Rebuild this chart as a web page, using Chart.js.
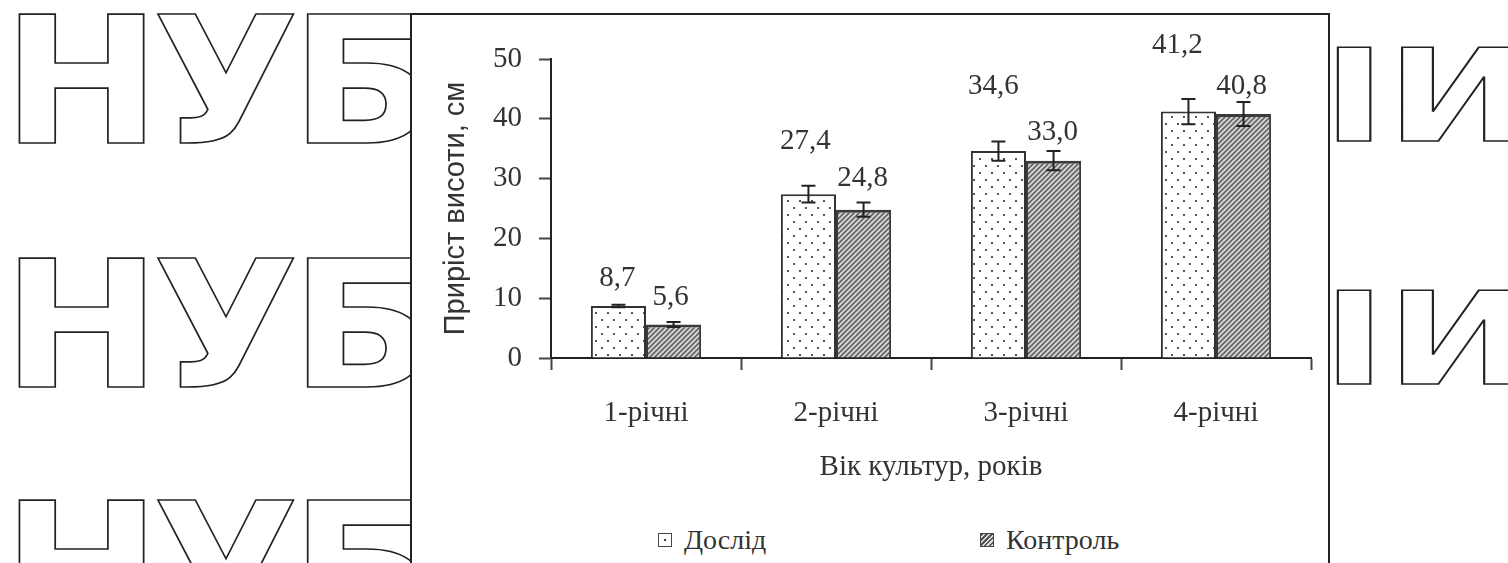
<!DOCTYPE html>
<html>
<head>
<meta charset="utf-8">
<script src="https://cdn.jsdelivr.net/npm/chart.js@4/dist/chart.umd.min.js"></script>
<style>
  body { margin:0; width:1508px; height:563px; overflow:hidden; background:#fff; position:relative; }
  .wm { position:absolute; font-family:'DejaVu Sans'; font-weight:bold; line-height:1; color:#fff;
        -webkit-text-stroke:1.6px #222; white-space:nowrap; transform-origin:0 0; }
  .big { font-size:176px; letter-spacing:-8px; transform:scaleX(1.08); }
  .small { font-size:128px; transform:scaleX(1.35); }
  #box { position:absolute; left:410px; top:13px; width:920px; height:600px; box-sizing:border-box;
         border:2px solid #222; background:#fff; }
  #c { position:absolute; left:412px; top:15px; }
  .leg { position:absolute; top:526px; display:flex; align-items:center; gap:12px; height:28px;
         font:28px 'Liberation Serif'; line-height:28px; color:#333; }
  .sw { width:14px; height:14px; border:1px solid #444; box-sizing:border-box; }
</style>
</head>
<body>
<!-- watermark behind the chart box -->
<div class="wm big" style="left:2px;top:-5px">НУБ</div>
<div class="wm big" style="left:2px;top:239px">НУБ</div>
<div class="wm big" style="left:2px;top:481px">НУБ</div>
<div class="wm small" style="left:1322px;top:33px">ІИ</div>
<div class="wm small" style="left:1322px;top:276px">ІИ</div>
<div id="box"></div>
<canvas id="c" width="915" height="470"></canvas>
<script>
// data
const categories = ['1-річні', '2-річні', '3-річні', '4-річні'];
const doslid = [8.7, 27.4, 34.6, 41.2];
const kontrol = [5.6, 24.8, 33.0, 40.8];
const doslidErr = [0.2, 1.4, 1.6, 2.1];
const kontrolErr = [0.4, 1.2, 1.6, 2.0];
const yTicks = [0, 10, 20, 30, 40, 50];

// label placement (pixels above bar top / sideways shift), as in the source figure
const labelLift = [[28, 53, 65, 66], [27, 31, 28, 28]];
const labelShift = [[-1, -3, -5, -11], [-3, -1, -1, -2]];
const legendX = [658, 980];

const serif = 'Liberation Serif';
const ink = '#333';

//dotted fill for "Дослід"
function dotPattern() {
  const c = document.createElement('canvas');
  c.width = 12; c.height = 14;
  const g = c.getContext('2d');
  g.fillStyle = '#fff';
  g.fillRect(0, 0, 12, 14);
  g.fillStyle = '#555';
  g.fillRect(3, 3, 2, 2);
  g.fillRect(9, 10, 2, 2);
  return g.createPattern(c, 'repeat');
}

//hatched fill for "Контроль"
function hatchPattern() {
  const c = document.createElement('canvas');
  c.width = 5; c.height = 5;
  const g = c.getContext('2d');
  g.fillStyle = '#d0d0d0';
  g.fillRect(0, 0, 5, 5);
  g.strokeStyle = '#555';
  g.lineWidth = 1.4;
  g.beginPath();
  g.moveTo(0, 5); g.lineTo(5, 0);
  g.moveTo(-1, 1); g.lineTo(1, -1);
  g.moveTo(4, 6); g.lineTo(6, 4);
  g.stroke();
  return g.createPattern(c, 'repeat');
}

const fmt = v => v.toFixed(1).replace('.', ',');

// error bars + value labels
const barExtras = {
  id: 'barExtras',
  afterDatasetsDraw(chart) {
    const ctx = chart.ctx;
    const y = chart.scales.y;
    ctx.save();
    chart.data.datasets.forEach((ds, i) => {
      const meta = chart.getDatasetMeta(i);
      meta.data.forEach((bar, j) => {
        const v = ds.data[j];
        const e = ds.errors[j];
        const t = y.getPixelForValue(v + e);
        const b = y.getPixelForValue(v - e);
        ctx.strokeStyle = '#222';
        ctx.lineWidth = 2;
        ctx.beginPath();
        ctx.moveTo(bar.x, t); ctx.lineTo(bar.x, b);
        ctx.moveTo(bar.x - 7, t); ctx.lineTo(bar.x + 7, t);
        ctx.moveTo(bar.x - 7, b); ctx.lineTo(bar.x + 7, b);
        ctx.stroke();

        ctx.fillStyle = ink;
        ctx.font = '29px "' + serif + '"';
        ctx.textAlign = 'center';
        ctx.textBaseline = 'middle';
        ctx.fillText(fmt(v), bar.x + labelShift[i][j], y.getPixelForValue(v) - labelLift[i][j]);
      });
    });
    ctx.restore();
  }
};

const chart = new Chart(document.getElementById('c'), {
  type: 'bar',
  data: {
    labels: categories,
    datasets: [
      {
        label: 'Дослід',
        data: doslid,
        errors: doslidErr,
        backgroundColor: dotPattern(),
        borderColor: '#333',
        borderWidth: 2,
        categoryPercentage: 0.58,
        barPercentage: 1
      },
      {
        label: 'Контроль',
        data: kontrol,
        errors: kontrolErr,
        backgroundColor: hatchPattern(),
        borderColor: '#3a3a3a',
        borderWidth: {top: 3, left: 2, right: 2, bottom: 0},
        categoryPercentage: 0.58,
        barPercentage: 1
      }
    ]
  },
  options: {
    responsive: false,
    animation: false,
    layout: { padding: {left: 0, right: 16, top: 44, bottom: 0} },
    plugins: {
      legend: { display: false },
      tooltip: { enabled: false }
    },
    scales: {
      x: {
        offset: true,
        ticks: { color: ink, font: {family: serif, size: 29}, padding: 26 },
        grid: { offset: true, drawOnChartArea: false, tickLength: 12, tickColor: '#444', tickWidth: 2 },
        border: { color: '#222', width: 2 },
        title: { display: true, text: 'Вік культур, років', color: ink,
                 font: {family: serif, size: 29}, padding: {top: 0, bottom: 0} },
        afterFit: s => { s.height = 127; }
      },
      y: {
        min: 0,
        max: 50,
        afterBuildTicks: s => { s.ticks = yTicks.map(v => ({value: v})); },
        ticks: { color: ink, font: {family: serif, size: 29}, padding: 17 },
        grid: { drawOnChartArea: false, tickLength: 12, tickColor: '#444', tickWidth: 2 },
        border: { color: '#222', width: 2 },
        title: { display: true, text: 'Приріст висоти, см', color: ink,
                 font: {family: 'Liberation Sans', size: 29}, padding: {top: 27, bottom: 0} },
        afterFit: s => { s.width = 139; }
      }
    }
  },
  plugins: [barExtras]
});

//html legend built from the datasets
chart.data.datasets.forEach((ds, i) => {
  const item = document.createElement('div');
  item.className = 'leg';
  item.style.left = legendX[i] + 'px';
  const sw = document.createElement('span');
  sw.className = 'sw';
  if (i === 0) {
    sw.style.background = 'radial-gradient(circle, #444 0 1.2px, #fff 1.6px)';
  } else {
    sw.style.background = 'repeating-linear-gradient(135deg, #555 0 1.5px, #ddd 1.5px 3.5px)';
  }
  const txt = document.createElement('span');
  txt.textContent = ds.label;
  item.append(sw, txt);
  document.body.appendChild(item);
});
</script>
</body>
</html>
